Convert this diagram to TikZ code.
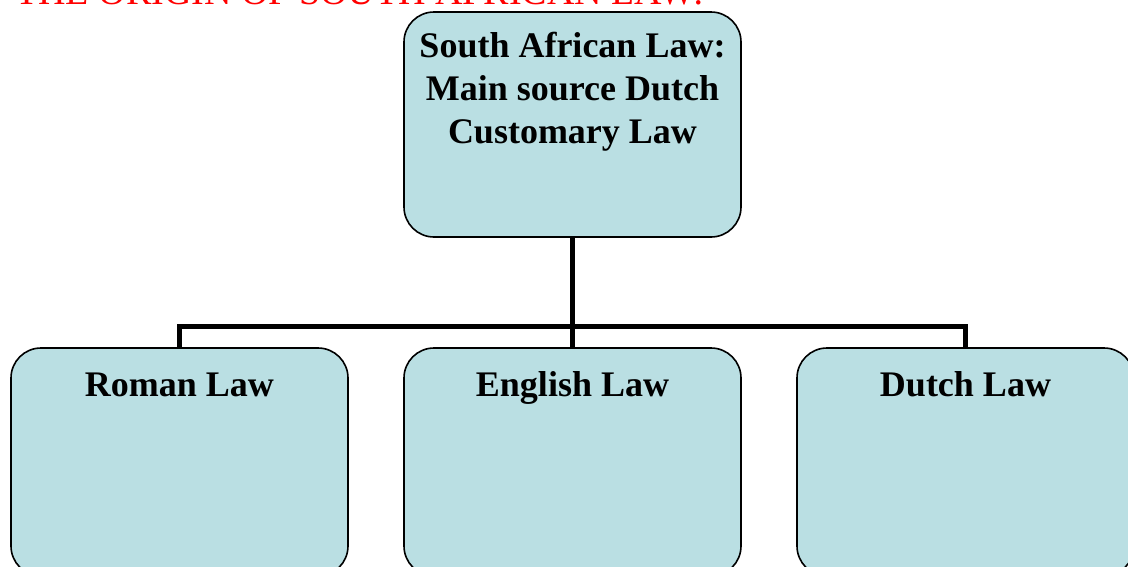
\documentclass[tikz,border=0pt]{standalone}
\usepackage{fontspec}
\setmainfont{Liberation Serif}
\usepackage{tikz}
\usetikzlibrary{positioning}
\usepackage{xcolor}
\definecolor{lawfill}{RGB}{186,223,227}
\definecolor{lawred}{RGB}{255,0,0}
\tikzstyle{lawbox} = [rectangle, rounded corners=30pt, minimum width=337pt, draw=black, fill=lawfill, line width=1.6pt]
\tikzstyle{lawtext} = [inner sep=0pt, align=center, font=\fontsize{36}{43.2}\selectfont\bfseries]
\tikzstyle{branch} = [line width=5pt, color=black]

\begin{document}
\begin{tikzpicture}[x=1pt, y=-1pt]
\useasboundingbox (0,0) rectangle (1128,566);
% Heading (cut off at the top)
\node (heading) [anchor=base west, inner sep=0pt, text=lawred, font=\fontsize{38}{44}\selectfont] at (15,4.5) {THE ORIGIN OF SOUTH AFRICAN LAW:};

% Law boxes
\node (law) [lawbox, minimum height=225pt] at (572.5,124.5) {};
\node (roman) [lawbox, minimum height=228pt] at (179.5,462) {};
\node (english) [lawbox, minimum height=228pt] at (572.5,462) {};
\node (dutch) [lawbox, minimum height=228pt] at (965.5,462) {};

% Box titles
\node (lawlabel) [lawtext, anchor=base] at (572.5,143.4) {South African Law:\\Main source Dutch\\Customary Law};
\node (romanlabel) [lawtext, anchor=base] at (179.5,396) {Roman Law};
\node (englishlabel) [lawtext, anchor=base] at (572.5,396) {English Law};
\node (dutchlabel) [lawtext, anchor=base] at (965.5,396) {Dutch Law};

% Branches
\coordinate (split) at (572.5,326);
\draw[branch] (law.south) -- (split);
\draw[branch] (split) -| (roman.north);
\draw[branch] (split) -- (english.north);
\draw[branch] (split) -| (dutch.north);
\end{tikzpicture}
\end{document}
